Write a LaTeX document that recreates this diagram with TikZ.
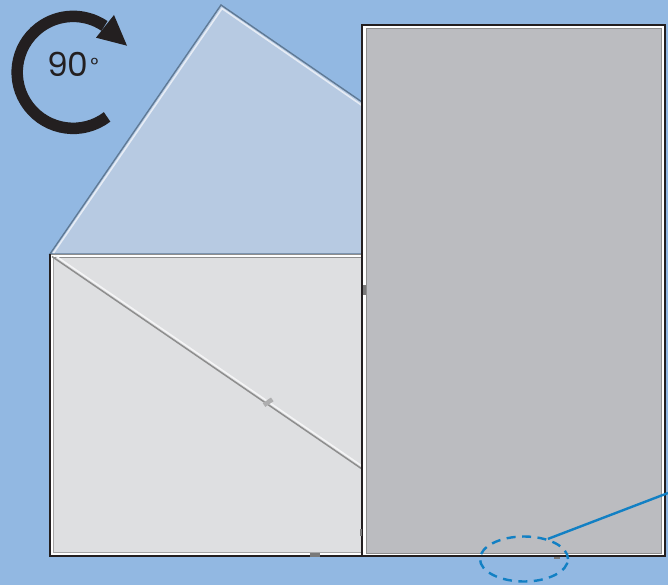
\documentclass[tikz,border=0pt]{standalone}
\usepackage{fontspec}
\setmainfont{Poppins}
\usetikzlibrary{shapes.geometric}
\definecolor{wallblue}{HTML}{92B8E2}
\definecolor{tiltblue}{HTML}{B7CAE2}
\definecolor{tiltedge}{HTML}{5F7A96}
\definecolor{screenlight}{HTML}{DEDFE1}
\definecolor{screendark}{HTML}{BBBCC0}
\definecolor{rimgray}{HTML}{8E8E8E}
\definecolor{arrowblack}{HTML}{231F20}
\definecolor{callblue}{HTML}{1280C4}
\tikzset{
  bezel/.style={draw=arrowblack, line width=1.4pt},
  inset/.style={draw=rimgray, line width=1pt},
  stub/.style={fill=rimgray!85!black},
  callout/.style={draw=callblue, line width=2.4pt},
}
\begin{document}
\begin{tikzpicture}[x=1pt, y=-1pt]
  \useasboundingbox (0,0) rectangle (668,585);
  \fill[wallblue] (0,0) rectangle (668,585);

  % turning sign
  \draw[arrowblack, line width=11.5pt] (107.1,116.9) arc[start angle=52.7, end angle=304, radius=56];
  \fill[arrowblack] (127,45.7) -- (114,15) -- (96,37.7) -- cycle;
  \node[text=arrowblack, font=\fontsize{33}{33}\selectfont, inner sep=0pt, anchor=west] (angle) at (47,64.5) {90\kern2pt\raisebox{5.5pt}{\fontsize{19}{19}\selectfont °}};

  % panel on its way round
  \draw[fill=tiltblue, draw=tiltedge, line width=1.4pt] (50,254) -- (221,5) -- (362,102) -- (362,254) -- cycle;
  \draw[white!65!tiltblue, line width=1.6pt] (53.5,253) -- (222,8.5) -- (362,105.5);

  % panel before the turn
  \fill[white] (50,254) rectangle (362,556);
  \fill[screenlight] (53,258) rectangle (362,552);
  \draw[rimgray, line width=1pt] (51,254.5) -- (362,254.5);
  \draw[rimgray, line width=1pt] (53,257.5) -- (362,257.5);
  \draw[rimgray!70!screenlight, line width=1pt] (53,257.5) -- (53,552) -- (362,552);
  \draw[bezel] (50,254) -- (50,556) -- (362,556);
  \fill[stub] (310,553) rectangle (320,556.5);
  \draw[rimgray, line width=1.5pt] (52,256.5) -- (362,469);
  \draw[white!70!screenlight, line width=1.5pt] (55,255.5) -- (362,466);
  \fill[rimgray!60!screenlight, rotate around={34.5:(268,402)}] (263,400) rectangle (273,404.5);

  % panel after the turn
  \fill[white] (362,25) rectangle (665,556);
  \fill[screendark] (366,29) rectangle (661,553);
  \draw[inset] (366,553) -- (366,29) -- (661,29) -- (661,553) -- cycle;
  \draw[bezel] (362,25) rectangle (665,556);
  \fill[stub] (362.5,285) rectangle (365.5,295);
  \fill[stub] (360,529) rectangle (362,536);
  \fill[stub] (554,556.5) rectangle (560,558.5);

  % callout
  \node[callout, dashed, dash pattern=on 9pt off 6.5pt, ellipse, minimum width=88pt, minimum height=45pt, inner sep=0pt] (spot) at (524,559) {};
  \coordinate (leadend) at (668,493);
  \draw[callout] (spot.40) -- (leadend);
\end{tikzpicture}
\end{document}
